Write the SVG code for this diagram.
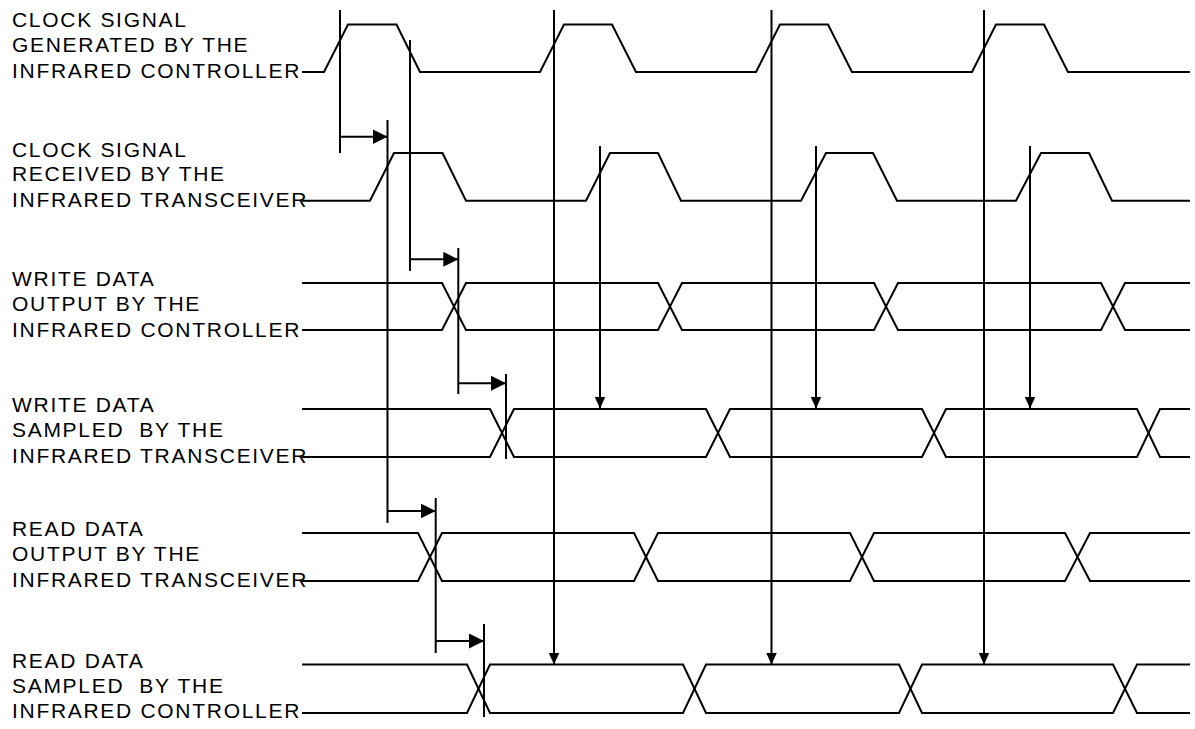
<svg xmlns="http://www.w3.org/2000/svg" width="1195" height="729" viewBox="0 0 1195 729">
<style>
.sig{fill:none;stroke:#000;stroke-width:2;stroke-linejoin:miter}
.ln{fill:none;stroke:#000;stroke-width:2}
.lbl{font-family:"Liberation Sans",Arial,sans-serif;font-size:21px;letter-spacing:1.7px;fill:#000}
</style>
<defs>
<marker id="ah" viewBox="0 0 15 15" refX="15" refY="7.5" markerWidth="15" markerHeight="15" markerUnits="userSpaceOnUse" orient="auto"><path d="M0,0 L15,7.5 L0,15 Z" fill="#000"/></marker>
<marker id="ad" viewBox="0 0 12 11" refX="12" refY="5.5" markerWidth="12" markerHeight="11" markerUnits="userSpaceOnUse" orient="auto"><path d="M0,0 L12,5.5 L0,11 Z" fill="#000"/></marker>
</defs>
<rect width="1195" height="729" fill="#fff"/>

<g id="clk-gen">
<text class="lbl" x="12" y="26.5">CLOCK SIGNAL</text>
<text class="lbl" x="12" y="51.5">GENERATED BY THE</text>
<text class="lbl" x="12" y="77.5">INFRARED CONTROLLER</text>
<path class="sig" d="M302,72 H324 L348,24.5 H396.5 L420,72 H540 L564,24.5 H612 L636,72 H756 L780,24.5 H828 L852,72 H972 L996,24.5 H1044 L1068,72 H1190"/>
</g>

<g id="clk-rcv">
<text class="lbl" x="12" y="156.5">CLOCK SIGNAL</text>
<text class="lbl" x="12" y="181">RECEIVED BY THE</text>
<text class="lbl" x="12" y="206.5">INFRARED TRANSCEIVER</text>
<path class="sig" d="M302,200.7 H370 L394,153 H442.5 L466,200.7 H586 L610,153 H658 L681,200.7 H801 L826,153 H873 L897,200.7 H1016 L1041,153 H1089 L1112,200.7 H1190"/>
</g>

<g id="wr-out">
<text class="lbl" x="12" y="286">WRITE DATA</text>
<text class="lbl" x="12" y="311">OUTPUT BY THE</text>
<text class="lbl" x="12" y="336.5">INFRARED CONTROLLER</text>
<path class="sig" d="M302,283 H442 L466,330 H658 L682,283 H874 L898,330 H1101 L1125,283 H1190"/>
<path class="sig" d="M302,330 H442 L466,283 H658 L682,330 H874 L898,283 H1101 L1125,330 H1190"/>
</g>

<g id="wr-smp">
<text class="lbl" x="12" y="412">WRITE DATA</text>
<text class="lbl" x="12" y="437" xml:space="preserve">SAMPLED  BY THE</text>
<text class="lbl" x="12" y="462.5">INFRARED TRANSCEIVER</text>
<path class="sig" d="M302,409 H490 L514,457 H706 L730,409 H922 L946,457 H1137 L1160,409 H1190"/>
<path class="sig" d="M302,457 H490 L514,409 H706 L730,457 H922 L946,409 H1137 L1160,457 H1190"/>
</g>

<g id="rd-out">
<text class="lbl" x="12" y="536">READ DATA</text>
<text class="lbl" x="12" y="561">OUTPUT BY THE</text>
<text class="lbl" x="12" y="586.5">INFRARED TRANSCEIVER</text>
<path class="sig" d="M302,533 H418 L442,581 H634 L658,533 H850 L874,581 H1065 L1090,533 H1190"/>
<path class="sig" d="M302,581 H418 L442,533 H634 L658,581 H850 L874,533 H1065 L1090,581 H1190"/>
</g>

<g id="rd-smp">
<text class="lbl" x="12" y="667.5">READ DATA</text>
<text class="lbl" x="12" y="692.5" xml:space="preserve">SAMPLED  BY THE</text>
<text class="lbl" x="12" y="718">INFRARED CONTROLLER</text>
<path class="sig" d="M302,664.5 H467 L490,713 H683 L706,664.5 H899 L922,713 H1113 L1137,664.5 H1190"/>
<path class="sig" d="M302,713 H467 L490,664.5 H683 L706,713 H899 L922,664.5 H1113 L1137,713 H1190"/>
</g>

<g id="connectors">
<line class="ln" x1="340" y1="10" x2="340" y2="153"/>
<line class="ln" x1="410" y1="40" x2="410" y2="271"/>
<line class="ln" x1="387.5" y1="120" x2="387.5" y2="523"/>
<line class="ln" x1="458.3" y1="248" x2="458.3" y2="394"/>
<line class="ln" x1="506" y1="374" x2="506" y2="459"/>
<line class="ln" x1="435.7" y1="498" x2="435.7" y2="653"/>
<line class="ln" x1="484" y1="624" x2="484" y2="717"/>
<line class="ln" x1="340" y1="136.7" x2="387.5" y2="136.7" marker-end="url(#ah)"/>
<line class="ln" x1="410" y1="259.3" x2="458.3" y2="259.3" marker-end="url(#ah)"/>
<line class="ln" x1="458.3" y1="383.3" x2="506" y2="383.3" marker-end="url(#ah)"/>
<line class="ln" x1="387.5" y1="511" x2="435.7" y2="511" marker-end="url(#ah)"/>
<line class="ln" x1="435.7" y1="641" x2="484" y2="641" marker-end="url(#ah)"/>
<line class="ln" x1="600" y1="146" x2="600" y2="408.5" marker-end="url(#ad)"/>
<line class="ln" x1="816" y1="146" x2="816" y2="408.5" marker-end="url(#ad)"/>
<line class="ln" x1="1030" y1="146" x2="1030" y2="408.5" marker-end="url(#ad)"/>
<line class="ln" x1="554" y1="10" x2="554" y2="664.5" marker-end="url(#ad)"/>
<line class="ln" x1="771.5" y1="10" x2="771.5" y2="664.5" marker-end="url(#ad)"/>
<line class="ln" x1="984" y1="10" x2="984" y2="664.5" marker-end="url(#ad)"/>
</g>
</svg>
